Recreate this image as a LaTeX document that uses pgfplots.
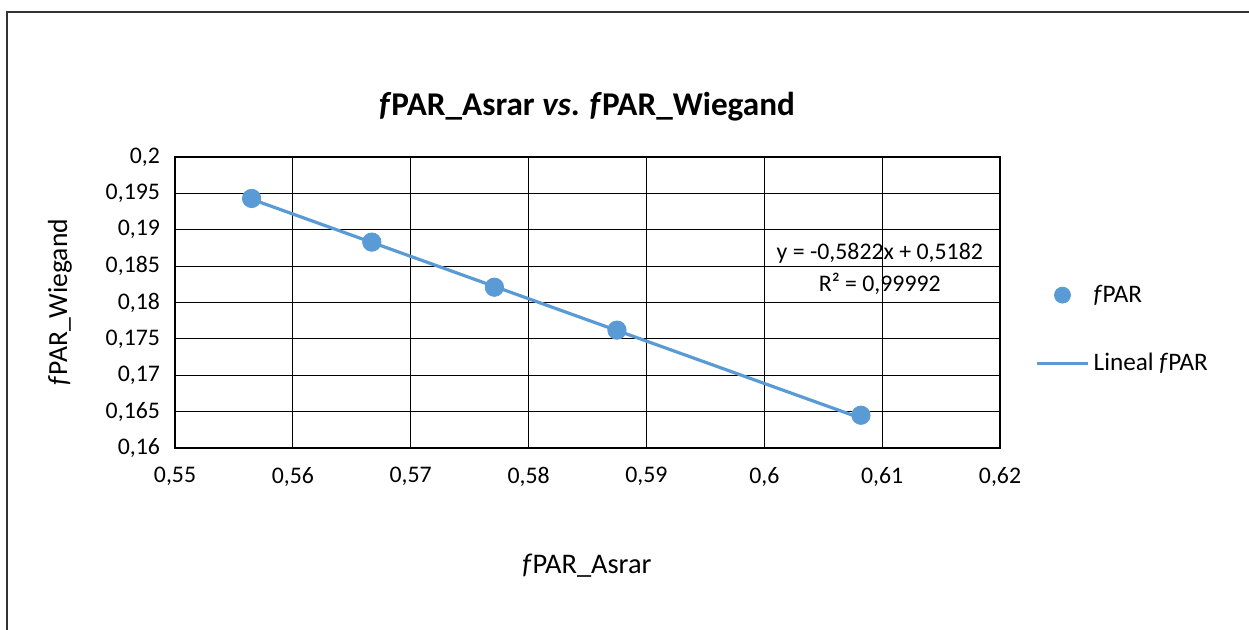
\documentclass[border=0pt]{standalone}
\usepackage{pgfplots}
\pgfplotsset{compat=1.18}
\usepackage{fontspec}
\setmainfont{Carlito}
\definecolor{xblue}{HTML}{5B9BD5}
\begin{document}
\begin{tikzpicture}
\path[use as bounding box] (0,0) rectangle (624.5pt,315pt);
\draw[line width=0.8pt,black!80] (3.5pt,-5pt) -- (3.5pt,309pt) -- (630pt,309pt);
\begin{axis}[
  at={(87.5pt,91pt)}, anchor=south west,
  scale only axis, width=412.5pt, height=145.5pt,
  xmin=0.55, xmax=0.62, ymin=0.16, ymax=0.2,
  xtick={0.55,0.56,...,0.62}, ytick={0.16,0.165,...,0.2},
  scaled ticks=false,
  /pgf/number format/.cd, use comma, precision=3, assume math mode=true,
  /pgfplots/.cd,
  grid=major, major grid style={black, line width=0.5pt},
  axis line style={black, line width=0.6pt},
  major tick length=0pt,
  tick label style={font=\fontsize{11.9}{14}\selectfont},
  yticklabel style={xshift=-4pt},
  xticklabel style={yshift=-6pt},
  legend style={draw=none, at={(1.035,0.589)}, anchor=north west,
    font=\fontsize{12.6}{15}\selectfont, row sep=20pt, fill=none},
  legend cell align=left,
  clip=false,
]
\addplot[only marks, mark=*, mark size=4.6pt, color=xblue, mark options={draw=xblue, fill=xblue},
  legend image code/.code={\draw[fill=xblue,draw=xblue] (0.3cm,0cm) circle (4pt);}]
  coordinates {(0.5565,0.1943) (0.5667,0.1883) (0.5771,0.1821) (0.5875,0.1762) (0.6082,0.1645)};
\addlegendentry{\textit{f}PAR}
\addplot[color=xblue, line width=1.6pt, no marks,
  legend image code/.code={\draw[xblue, line width=1.6pt] (-0.15cm,0cm) -- (0.75cm,0cm);}]
  coordinates {(0.5565,0.1942) (0.6082,0.1641)};
\addlegendentry{Lineal \textit{f}PAR}
\node[font=\fontsize{11.9}{14}\selectfont, align=center] at (axis cs:0.6098,0.1868) {y = -0,5822x + 0,5182};
\node[font=\fontsize{11.9}{14}\selectfont, align=center] at (axis cs:0.6098,0.1825) {R² = 0,99992};
\end{axis}
\node[font=\fontsize{16.6}{20}\selectfont\bfseries] at (293.5pt,261.5pt) {\textit{f}PAR\_Asrar \textit{vs}. \textit{f}PAR\_Wiegand};
\node[font=\fontsize{14.2}{17}\selectfont] at (293.5pt,32pt) {\textit{f}PAR\_Asrar};
\node[font=\fontsize{13.8}{17}\selectfont, rotate=90] at (30pt,164pt) {\textit{f}PAR\_Wiegand};
\end{tikzpicture}
\end{document}
